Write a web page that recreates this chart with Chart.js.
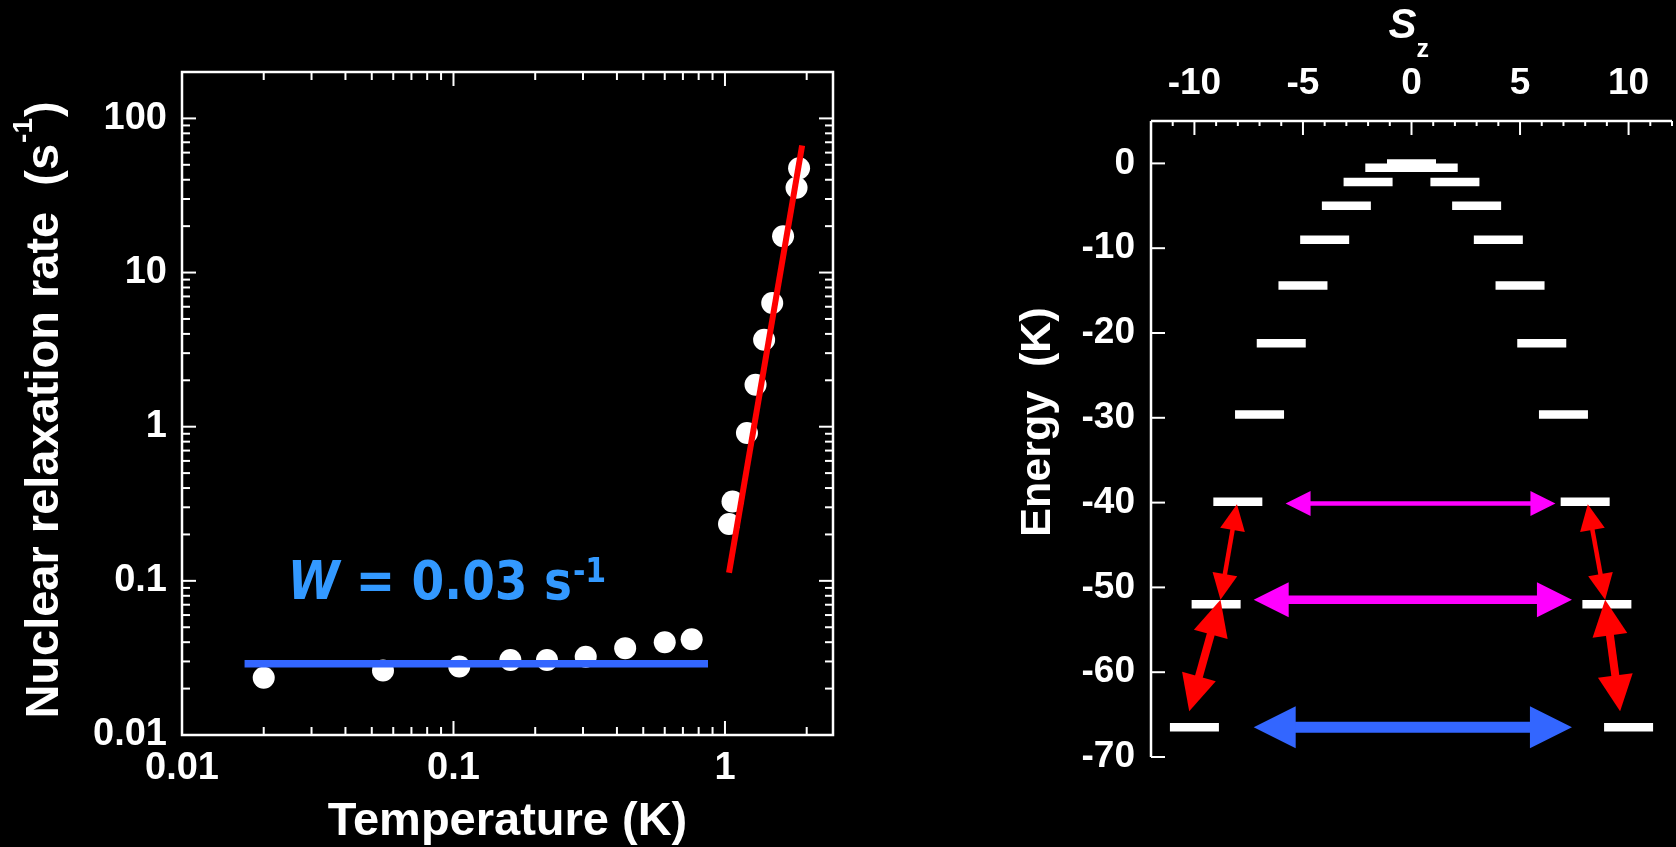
<!DOCTYPE html>
<html>
<head>
<meta charset="utf-8">
<script src="https://cdn.jsdelivr.net/npm/chart.js@4.4.1/dist/chart.umd.min.js"></script>
<style>
  html, body { margin: 0; padding: 0; background: #000; }
  body { width: 1676px; height: 847px; position: relative; overflow: hidden; }
  #rateChart { position: absolute; left: 0; top: 0; }
  #levelChart { position: absolute; left: 900px; top: 0; }
</style>
</head>
<body>
<canvas id="rateChart" width="900" height="847"></canvas>
<canvas id="levelChart" width="776" height="847"></canvas>
<script>
// ---- left panel: nuclear relaxation rate vs temperature ----
const temperature = [0.020, 0.055, 0.105, 0.162, 0.221, 0.307, 0.429, 0.600, 0.754,
  1.035, 1.066, 1.205, 1.296, 1.394, 1.493, 1.637, 1.835, 1.875];
const rate = [0.0235, 0.0262, 0.0278, 0.0307, 0.0307, 0.0322, 0.0366, 0.040, 0.0418,
  0.234, 0.327, 0.91, 1.87, 3.67, 6.35, 17.2, 35.5, 47.5];
const fitT = [1.035, 1.924];
const fitRate = [0.113, 66.8];
const plateauT = [0.017, 0.866];
const plateauRate = [0.029, 0.029];
const tempTicks = [0.01, 0.1, 1];
const rateTicks = [0.01, 0.1, 1, 10, 100];

// ---- right panel: Sz levels ----
const sz = [-10, -9, -8, -7, -6, -5, -4, -3, -2, -1, 0, 1, 2, 3, 4, 5, 6, 7, 8, 9, 10];
const energy = [-66.5, -52.0, -39.9, -29.6, -21.2, -14.4, -9.0, -5.0, -2.2, -0.5, 0,
  -0.5, -2.2, -5.0, -9.0, -14.4, -21.2, -29.6, -39.9, -52.0, -66.5];
const szTicks = [-10, -5, 0, 5, 10];
const energyTicks = [0, -10, -20, -30, -40, -50, -60, -70];
// arrow ends in (Sz, Energy)
const arrowFrom = [[-5.80, -40.1], [-7.27, -51.45], [-7.27, -66.5],
  [-8.04, -40.2], [-8.80, -51.45], [8.12, -40.2], [8.92, -51.45]];
const arrowTo = [[6.63, -40.1], [7.39, -51.45], [7.39, -66.5],
  [-8.80, -51.45], [-10.24, -64.6], [8.92, -51.45], [9.61, -64.6]];

// styles
const arrowStyle = [
  { color: '#ff00ff', shaft: 4.5, head: 25, half: 12.5 },
  { color: '#ff00ff', shaft: 8.5, head: 35, half: 17.5 },
  { color: '#3366ff', shaft: 11, head: 42, half: 21 },
  { color: '#ff0000', shaft: 4.5, head: 26, half: 12.5 },
  { color: '#ff0000', shaft: 8, head: 36, half: 17.5 },
  { color: '#ff0000', shaft: 4.5, head: 26, half: 12.5 },
  { color: '#ff0000', shaft: 8, head: 36, half: 17.5 },
];
const SANS = '"Liberation Sans", Arial, sans-serif';

function logMinor(min, max) {
  const out = [];
  for (let k = Math.floor(Math.log10(min)); k <= Math.ceil(Math.log10(max)); k++) {
    for (let m = 1; m <= 9; m++) {
      const v = m * Math.pow(10, k);
      if (v >= min * 0.999 && v <= max * 1.001) out.push(v);
    }
  }
  return out;
}

function line(ctx, x1, y1, x2, y2) {
  ctx.beginPath();
  ctx.moveTo(x1, y1);
  ctx.lineTo(x2, y2);
  ctx.stroke();
}

const rateDecor = {
  id: 'rateDecor',
  afterDraw(chart) {
    const { ctx, chartArea: a, scales: { x, y } } = chart;
    ctx.save();
    ctx.strokeStyle = '#fff';
    ctx.lineWidth = 2.5;
    ctx.strokeRect(a.left, a.top, a.right - a.left, a.bottom - a.top);

    // inward ticks on all four sides
    ctx.lineWidth = 2;
    logMinor(x.min, x.max).forEach(v => {
      const len = tempTicks.includes(v) ? 14 : 8;
      const px = x.getPixelForValue(v);
      line(ctx, px, a.bottom, px, a.bottom - len);
      line(ctx, px, a.top, px, a.top + len);
    });
    logMinor(y.min, y.max).forEach(v => {
      const len = rateTicks.includes(v) ? 14 : 8;
      const py = y.getPixelForValue(v);
      line(ctx, a.left, py, a.left + len, py);
      line(ctx, a.right, py, a.right - len, py);
    });

    // axis titles
    ctx.fillStyle = '#fff';
    ctx.textBaseline = 'alphabetic';
    ctx.textAlign = 'center';
    ctx.font = 'bold 47px ' + SANS;
    ctx.fillText('Temperature (K)', (a.left + a.right) / 2, 835);

    ctx.save();
    ctx.translate(58, 410);
    ctx.rotate(-Math.PI / 2);
    ctx.textAlign = 'left';
    const main = 'Nuclear relaxation rate  (s';
    ctx.font = 'bold 47px ' + SANS;
    const w1 = ctx.measureText(main).width;
    const w3 = ctx.measureText(')').width;
    ctx.font = 'bold 28px ' + SANS;
    const w2 = ctx.measureText('-1').width;
    const start = -(w1 + w2 + w3 + 2) / 2;
    ctx.font = 'bold 47px ' + SANS;
    ctx.fillText(main, start, 0);
    ctx.fillText(')', start + w1 + w2 + 2, 0);
    ctx.font = 'bold 28px ' + SANS;
    ctx.fillText('-1', start + w1 + 1, -26);
    ctx.restore();

    // W = 0.03 s-1 label, anchored in data space
    ctx.save();
    ctx.translate(x.getPixelForValue(0.0245), y.getPixelForValue(0.0762));
    ctx.scale(1, 1.13);
    ctx.fillStyle = '#3399ff';
    ctx.textAlign = 'left';
    let cx = 0;
    ctx.font = 'italic bold 47px "DejaVu Sans", sans-serif';
    ctx.fillText('W', cx, 0);
    cx += ctx.measureText('W').width;
    ctx.font = 'bold 47px "DejaVu Sans", sans-serif';
    ctx.fillText(' = 0.03 s', cx, 0);
    cx += ctx.measureText(' = 0.03 s').width;
    ctx.font = 'bold 30px "DejaVu Sans", sans-serif';
    ctx.fillText('-1', cx + 1, -15);
    ctx.restore();

    ctx.restore();
  }
};

function drawArrow(ctx, p0, p1, st) {
  const dx = p1[0] - p0[0], dy = p1[1] - p0[1];
  const L = Math.hypot(dx, dy);
  const ux = dx / L, uy = dy / L, nx = -uy, ny = ux;
  ctx.strokeStyle = st.color;
  ctx.fillStyle = st.color;
  ctx.lineWidth = st.shaft;
  ctx.lineCap = 'butt';
  line(ctx, p0[0] + ux * st.head * 0.9, p0[1] + uy * st.head * 0.9,
    p1[0] - ux * st.head * 0.9, p1[1] - uy * st.head * 0.9);
  [[p1, 1], [p0, -1]].forEach(([p, s]) => {
    const bx = p[0] - s * ux * st.head, by = p[1] - s * uy * st.head;
    ctx.beginPath();
    ctx.moveTo(p[0], p[1]);
    ctx.lineTo(bx + nx * st.half, by + ny * st.half);
    ctx.lineTo(bx - nx * st.half, by - ny * st.half);
    ctx.closePath();
    ctx.fill();
  });
}

const levelDecor = {
  id: 'levelDecor',
  afterDatasetsDraw(chart) {
    const { ctx, scales: { x, y } } = chart;
    ctx.save();
    arrowFrom.forEach((f, i) => {
      const t = arrowTo[i];
      drawArrow(ctx,
        [x.getPixelForValue(f[0]), y.getPixelForValue(f[1])],
        [x.getPixelForValue(t[0]), y.getPixelForValue(t[1])],
        arrowStyle[i]);
    });
    ctx.restore();
  },
  afterDraw(chart) {
    const { ctx, chartArea: a, scales: { x, y } } = chart;
    ctx.save();
    ctx.strokeStyle = '#fff';
    ctx.lineWidth = 2.5;
    line(ctx, a.left, a.top, a.right, a.top);
    line(ctx, a.left, a.top, a.left, a.bottom);
    ctx.lineWidth = 2;
    for (let v = Math.ceil(x.min); v <= x.max; v++) {
      const len = v % 5 === 0 ? 14 : 5;
      const px = x.getPixelForValue(v);
      line(ctx, px, a.top, px, a.top + len);
    }
    energyTicks.forEach(v => {
      const py = y.getPixelForValue(v);
      line(ctx, a.left, py, a.left + 14, py);
    });

    ctx.fillStyle = '#fff';
    ctx.textBaseline = 'alphabetic';
    ctx.save();
    ctx.translate(150, 422);
    ctx.rotate(-Math.PI / 2);
    ctx.textAlign = 'center';
    ctx.font = 'bold 43px ' + SANS;
    ctx.fillText('Energy  (K)', 0, 0);
    ctx.restore();

    const x0 = x.getPixelForValue(0);
    ctx.textAlign = 'left';
    ctx.font = 'italic bold 42px ' + SANS;
    ctx.fillText('S', x0 - 23, 38);
    ctx.font = 'bold 25px ' + SANS;
    ctx.fillText('z', x0 + 5, 57);
    ctx.restore();
  }
};

const tickFontL = { family: SANS, size: 38, weight: 'bold' };
const tickFontR = { family: SANS, size: 37, weight: 'bold' };

new Chart(document.getElementById('rateChart'), {
  type: 'scatter',
  data: {
    datasets: [
      {
        data: plateauT.map((t, i) => ({ x: t, y: plateauRate[i] })),
        showLine: true, borderColor: '#3366ff', borderWidth: 7.5,
        pointRadius: 0, order: 1
      },
      {
        data: fitT.map((t, i) => ({ x: t, y: fitRate[i] })),
        showLine: true, borderColor: '#ff0000', borderWidth: 6,
        pointRadius: 0, order: 2
      },
      {
        data: temperature.map((t, i) => ({ x: t, y: rate[i] })),
        pointRadius: 11, pointBackgroundColor: '#ffffff', pointBorderWidth: 0,
        order: 3
      }
    ]
  },
  options: {
    responsive: false, animation: false, events: [],
    layout: { autoPadding: false, padding: { left: 0, top: 72, right: 67, bottom: 0 } },
    plugins: { legend: { display: false }, tooltip: { enabled: false } },
    scales: {
      x: {
        type: 'logarithmic', min: 0.01, max: 2.5,
        grid: { display: false, drawTicks: false }, border: { display: false },
        afterBuildTicks: s => { s.ticks = tempTicks.map(v => ({ value: v })); },
        afterFit: s => { s.height = 112; },
        ticks: { color: '#fff', font: tickFontL, padding: 11, autoSkip: false, maxRotation: 0,
          callback: v => String(v) }
      },
      y: {
        type: 'logarithmic', min: 0.01, max: 200,
        grid: { display: false, drawTicks: false }, border: { display: false },
        afterBuildTicks: s => { s.ticks = rateTicks.map(v => ({ value: v })); },
        afterFit: s => { s.width = 182; },
        ticks: { color: '#fff', font: tickFontL, padding: 15, autoSkip: false,
          callback: v => String(v) }
      }
    }
  },
  plugins: [rateDecor]
});

new Chart(document.getElementById('levelChart'), {
  type: 'scatter',
  data: {
    datasets: [{
      data: sz.map((m, i) => ({ x: m, y: energy[i] })),
      pointStyle: 'line', pointRadius: 24.5, pointBorderWidth: 8.5,
      pointBorderColor: '#ffffff', pointBackgroundColor: '#ffffff'
    }]
  },
  options: {
    responsive: false, animation: false, events: [],
    layout: { autoPadding: false, padding: { left: 0, top: 0, right: 4, bottom: 90 } },
    plugins: { legend: { display: false }, tooltip: { enabled: false } },
    scales: {
      x: {
        type: 'linear', position: 'top', min: -12, max: 12,
        grid: { display: false, drawTicks: false }, border: { display: false },
        afterBuildTicks: s => { s.ticks = szTicks.map(v => ({ value: v })); },
        afterFit: s => { s.height = 121; },
        ticks: { color: '#fff', font: tickFontR, padding: 15, autoSkip: false, maxRotation: 0 }
      },
      y: {
        type: 'linear', min: -70, max: 5,
        grid: { display: false, drawTicks: false }, border: { display: false },
        afterBuildTicks: s => { s.ticks = energyTicks.map(v => ({ value: v })); },
        afterFit: s => { s.width = 251; },
        ticks: { color: '#fff', font: tickFontR, padding: 16, autoSkip: false }
      }
    }
  },
  plugins: [levelDecor]
});
</script>
</body>
</html>
